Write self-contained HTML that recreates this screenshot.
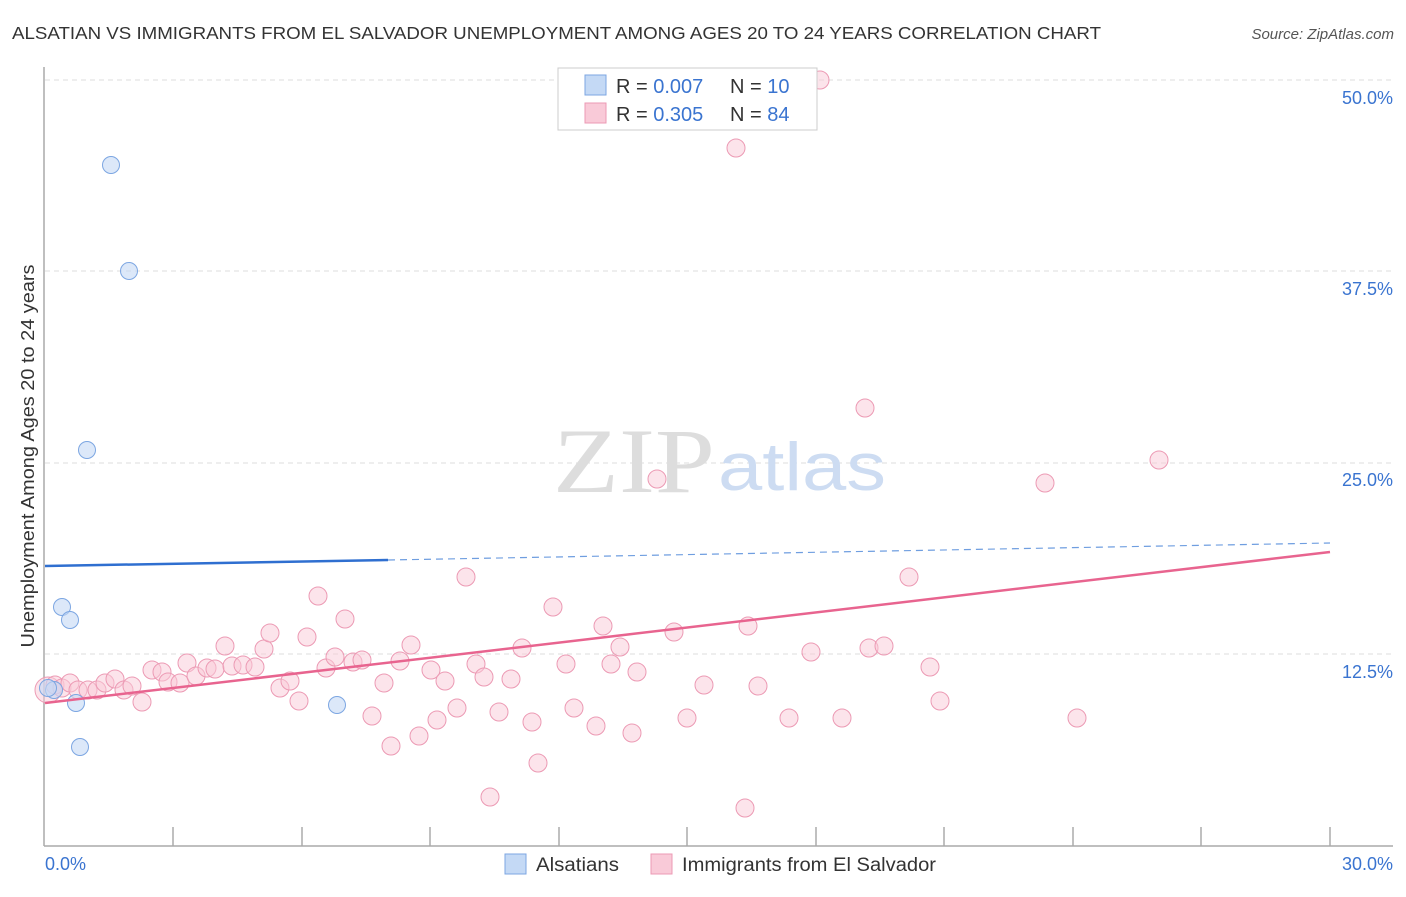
<!DOCTYPE html>
<html><head><meta charset="utf-8"><style>
body{margin:0;background:#fff;font-family:"Liberation Sans",sans-serif;}
</style></head><body>
<svg width="1406" height="892" xmlns="http://www.w3.org/2000/svg" font-family="Liberation Sans, sans-serif">
<text x="12" y="39" font-size="17.5" fill="#333" textLength="1089" lengthAdjust="spacingAndGlyphs">ALSATIAN VS IMMIGRANTS FROM EL SALVADOR UNEMPLOYMENT AMONG AGES 20 TO 24 YEARS CORRELATION CHART</text>
<text x="1394" y="39" font-size="15" fill="#555" text-anchor="end" font-style="italic">Source: ZipAtlas.com</text>
<g stroke="#ddd" stroke-dasharray="5,4" stroke-width="1">
<line x1="45" y1="80" x2="1393" y2="80"/><line x1="45" y1="271" x2="1393" y2="271"/>
<line x1="45" y1="463" x2="1393" y2="463"/><line x1="45" y1="654" x2="1393" y2="654"/>
</g>
<g stroke="#aaa" stroke-width="1.5">
<line x1="44" y1="67" x2="44" y2="846"/><line x1="44" y1="846" x2="1393" y2="846"/>
<line x1="173" y1="827" x2="173" y2="846"/><line x1="302" y1="827" x2="302" y2="846"/><line x1="430" y1="827" x2="430" y2="846"/><line x1="559" y1="827" x2="559" y2="846"/><line x1="687" y1="827" x2="687" y2="846"/><line x1="816" y1="827" x2="816" y2="846"/><line x1="944" y1="827" x2="944" y2="846"/><line x1="1073" y1="827" x2="1073" y2="846"/><line x1="1201" y1="827" x2="1201" y2="846"/><line x1="1330" y1="827" x2="1330" y2="846"/>
</g>
<text x="553" y="492" font-size="92" fill="#ddd" font-family="Liberation Serif, serif" textLength="162" lengthAdjust="spacingAndGlyphs">ZIP</text>
<text x="718" y="490" font-size="68" fill="#cddcf2" textLength="168" lengthAdjust="spacingAndGlyphs">atlas</text>
<g font-size="18" fill="#3a74d0" text-anchor="end">
<text x="1393" y="104">50.0%</text><text x="1393" y="295">37.5%</text><text x="1393" y="486">25.0%</text><text x="1393" y="678">12.5%</text>
</g>
<text x="45" y="870" font-size="18" fill="#3a74d0">0.0%</text>
<text x="1393" y="870" font-size="18" fill="#3a74d0" text-anchor="end">30.0%</text>
<text transform="translate(34,456) rotate(-90)" font-size="18" fill="#333" text-anchor="middle" textLength="383" lengthAdjust="spacingAndGlyphs">Unemployment Among Ages 20 to 24 years</text>
<g fill="#f9cad8" fill-opacity="0.5" stroke="#ec9ab4" stroke-width="1">
<circle cx="48" cy="690" r="13"/>
<circle cx="55" cy="685" r="9"/><circle cx="62" cy="688" r="9"/><circle cx="70" cy="683" r="9"/><circle cx="78" cy="690" r="9"/><circle cx="88" cy="690" r="9"/><circle cx="97" cy="690" r="9"/><circle cx="105" cy="683" r="9"/><circle cx="115" cy="679" r="9"/><circle cx="124" cy="690" r="9"/><circle cx="132" cy="686" r="9"/><circle cx="142" cy="702" r="9"/><circle cx="152" cy="670" r="9"/><circle cx="162" cy="672" r="9"/><circle cx="168" cy="682" r="9"/><circle cx="180" cy="683" r="9"/><circle cx="187" cy="663" r="9"/><circle cx="196" cy="676" r="9"/><circle cx="207" cy="668" r="9"/><circle cx="215" cy="669" r="9"/><circle cx="225" cy="646" r="9"/><circle cx="232" cy="666" r="9"/><circle cx="243" cy="665" r="9"/><circle cx="255" cy="667" r="9"/><circle cx="264" cy="649" r="9"/><circle cx="270" cy="633" r="9"/><circle cx="280" cy="688" r="9"/><circle cx="290" cy="681" r="9"/><circle cx="299" cy="701" r="9"/><circle cx="307" cy="637" r="9"/><circle cx="318" cy="596" r="9"/><circle cx="326" cy="668" r="9"/><circle cx="335" cy="657" r="9"/><circle cx="345" cy="619" r="9"/><circle cx="353" cy="662" r="9"/><circle cx="362" cy="660" r="9"/><circle cx="372" cy="716" r="9"/><circle cx="384" cy="683" r="9"/><circle cx="391" cy="746" r="9"/><circle cx="400" cy="661" r="9"/><circle cx="411" cy="645" r="9"/><circle cx="419" cy="736" r="9"/><circle cx="431" cy="670" r="9"/><circle cx="437" cy="720" r="9"/><circle cx="445" cy="681" r="9"/><circle cx="457" cy="708" r="9"/><circle cx="466" cy="577" r="9"/><circle cx="476" cy="664" r="9"/><circle cx="484" cy="677" r="9"/><circle cx="490" cy="797" r="9"/><circle cx="499" cy="712" r="9"/><circle cx="511" cy="679" r="9"/><circle cx="522" cy="648" r="9"/><circle cx="532" cy="722" r="9"/><circle cx="538" cy="763" r="9"/><circle cx="553" cy="607" r="9"/><circle cx="566" cy="664" r="9"/><circle cx="574" cy="708" r="9"/><circle cx="596" cy="726" r="9"/><circle cx="603" cy="626" r="9"/><circle cx="611" cy="664" r="9"/><circle cx="620" cy="647" r="9"/><circle cx="632" cy="733" r="9"/><circle cx="637" cy="672" r="9"/><circle cx="657" cy="479" r="9"/><circle cx="674" cy="632" r="9"/><circle cx="687" cy="718" r="9"/><circle cx="704" cy="685" r="9"/><circle cx="736" cy="148" r="9"/><circle cx="745" cy="808" r="9"/><circle cx="748" cy="626" r="9"/><circle cx="758" cy="686" r="9"/><circle cx="789" cy="718" r="9"/><circle cx="811" cy="652" r="9"/><circle cx="820" cy="80" r="9"/><circle cx="842" cy="718" r="9"/><circle cx="865" cy="408" r="9"/><circle cx="869" cy="648" r="9"/><circle cx="884" cy="646" r="9"/><circle cx="909" cy="577" r="9"/><circle cx="930" cy="667" r="9"/><circle cx="940" cy="701" r="9"/><circle cx="1045" cy="483" r="9"/><circle cx="1077" cy="718" r="9"/><circle cx="1159" cy="460" r="9"/>
</g>
<g fill="#c4d9f5" fill-opacity="0.6" stroke="#7ca6e2" stroke-width="1">
<circle cx="111" cy="165" r="8.5"/><circle cx="129" cy="271" r="8.5"/><circle cx="87" cy="450" r="8.5"/><circle cx="62" cy="607" r="8.5"/><circle cx="70" cy="620" r="8.5"/><circle cx="54" cy="690" r="8.5"/><circle cx="76" cy="703" r="8.5"/><circle cx="80" cy="747" r="8.5"/><circle cx="337" cy="705" r="8.5"/><circle cx="48" cy="688" r="8.5"/>
</g>
<line x1="45" y1="703" x2="1330" y2="552" stroke="#e8648f" stroke-width="2.5"/>
<line x1="45" y1="566" x2="388" y2="560" stroke="#2f6fd0" stroke-width="2.5"/>
<line x1="388" y1="560" x2="1330" y2="543" stroke="#6f9ee0" stroke-width="1.2" stroke-dasharray="7,5"/>
<rect x="558" y="68" width="259" height="62" fill="#fff" stroke="#ccc"/>
<rect x="585" y="75" width="21" height="20" fill="#c4d9f5" stroke="#7ca6e2"/>
<rect x="585" y="103" width="21" height="20" fill="#f9cad8" stroke="#ec9ab4"/>
<g font-size="20">
<text x="616" y="93" fill="#333">R = <tspan fill="#3a74d0">0.007</tspan></text>
<text x="730" y="93" fill="#333">N = <tspan fill="#3a74d0">10</tspan></text>
<text x="616" y="121" fill="#333">R = <tspan fill="#3a74d0">0.305</tspan></text>
<text x="730" y="121" fill="#333">N = <tspan fill="#3a74d0">84</tspan></text>
</g>
<rect x="505" y="854" width="21" height="20" fill="#c4d9f5" stroke="#7ca6e2"/>
<text x="536" y="871" font-size="19" fill="#333" textLength="83" lengthAdjust="spacingAndGlyphs">Alsatians</text>
<rect x="651" y="854" width="21" height="20" fill="#f9cad8" stroke="#ec9ab4"/>
<text x="682" y="871" font-size="19" fill="#333" textLength="254" lengthAdjust="spacingAndGlyphs">Immigrants from El Salvador</text>
</svg>
</body></html>
